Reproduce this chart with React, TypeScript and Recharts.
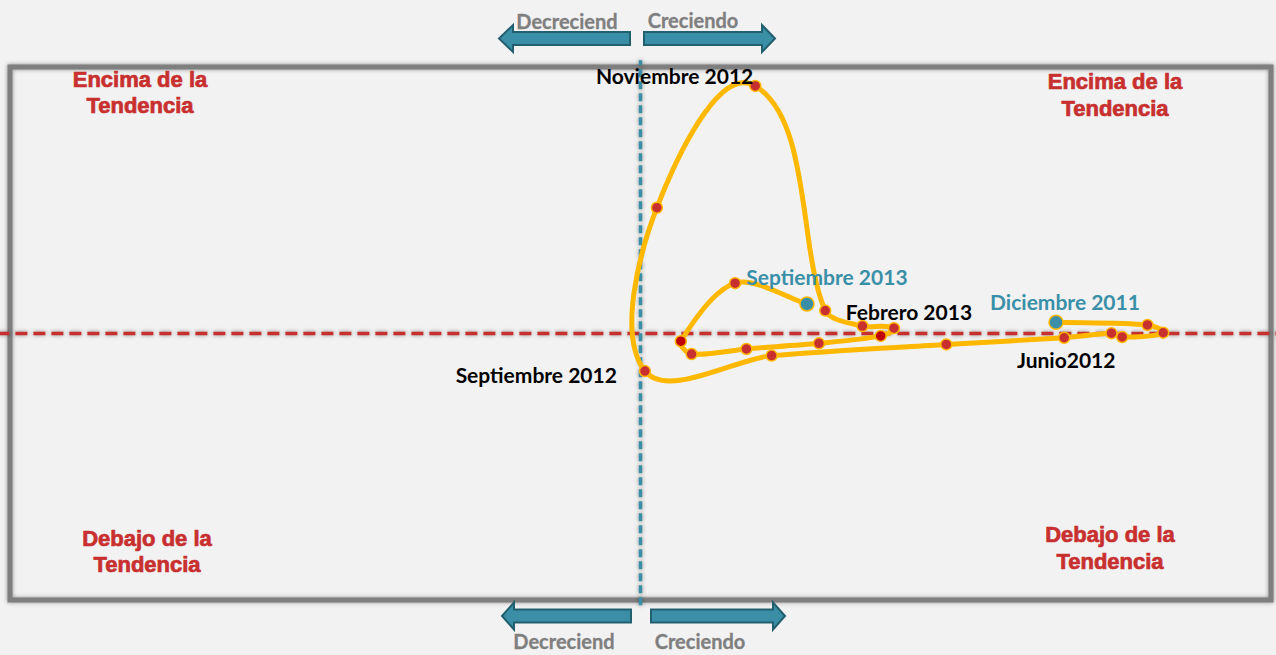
import React from 'react';
import { ScatterChart, Scatter, XAxis, YAxis, ReferenceLine, ReferenceArea } from 'recharts';

// months shown on the clock, Dec 2011 -> Sep 2013
const months = [
  'Dic 2011', 'Ene 2012', 'Feb 2012', 'Mar 2012', 'Abr 2012', 'Jun 2012', 'Jul 2012',
  'Ago 2012', 'Sep 2012', 'Oct 2012', 'Nov 2012', 'Dic 2012', 'Ene 2013', 'Feb 2013',
  'Mar 2013', 'Abr 2013', 'May 2013', 'Jun 2013', 'Jul 2013', 'Ago 2013', 'Sep 2013',
];
// growth (horizontal) and deviation from trend (vertical)
const growth = [
  6.59, 8.04, 8.29, 7.64, 7.47, 6.72, 4.85, 2.08, 0.07, 0.26, 1.82, 2.93, 3.52, 4.02,
  3.81, 2.83, 1.68, 0.81, 0.64, 1.5, 2.64,
];
const trend = [
  0.42, 0.32, 0.03, -0.13, 0.01, -0.16, -0.41, -0.83, -1.41, 4.72, 9.29, 0.86, 0.28, 0.2,
  -0.09, -0.37, -0.58, -0.77, -0.29, 1.89, 1.11,
];

const labelMonths = ['Dic 2011', 'Jun 2012', 'Sep 2012', 'Nov 2012', 'Feb 2013', 'Sep 2013'];
const labelTexts = ['Diciembre 2011', 'Junio2012', 'Septiembre 2012', 'Noviembre 2012', 'Febrero 2013', 'Septiembre 2013'];

const quadrantTexts = ['Encima de la', 'Tendencia', 'Debajo de la', 'Tendencia'];
const arrowTexts = ['Decreciend', 'Creciendo'];

const data = months.map((m, i) => ({ month: m, x: growth[i], y: trend[i] }));

const TEAL = '#3A8FA8';
const RED = '#C8302F';
const DARK_RED = '#C00000';
const YELLOW = '#FFB800';

// where each point label sits relative to its point
const labelStyle: Record<string, { dx: number; dy: number; anchor: string; color: string }> = {
  'Dic 2011': { dx: 9, dy: -12, anchor: 'middle', color: TEAL },
  'Jun 2012': { dx: 2, dy: 30, anchor: 'middle', color: '#000' },
  'Sep 2012': { dx: -28, dy: 12, anchor: 'end', color: '#000' },
  'Nov 2012': { dx: -2, dy: -2, anchor: 'end', color: '#000' },
  'Feb 2013': { dx: 15, dy: -8, anchor: 'middle', color: '#000' },
  'Sep 2013': { dx: 20, dy: -19, anchor: 'middle', color: TEAL },
};
const darkPoints = ['Mar 2013', 'Jul 2013'];

const unit = (x: number, y: number) => {
  const l = Math.hypot(x, y) || 1;
  return { x: x / l, y: y / l };
};

// smooth line through points, like the office "smoothed line"
const smoothPath = (pts: any[], t = 0.28) => {
  if (!pts || pts.length < 2) return '';
  let d = `M${pts[0].x},${pts[0].y}`;
  for (let i = 0; i < pts.length - 1; i++) {
    const p0 = pts[Math.max(i - 1, 0)];
    const p1 = pts[i];
    const p2 = pts[i + 1];
    const p3 = pts[Math.min(i + 2, pts.length - 1)];
    const len = Math.hypot(p2.x - p1.x, p2.y - p1.y) * t;
    const u1 = unit(p2.x - p0.x, p2.y - p0.y);
    const u2 = unit(p3.x - p1.x, p3.y - p1.y);
    d += ` C${p1.x + u1.x * len},${p1.y + u1.y * len} ${p2.x - u2.x * len},${p2.y - u2.y * len} ${p2.x},${p2.y}`;
  }
  return d;
};

const renderLine = (props: any) => (
  <path
    d={smoothPath(props.points)}
    fill="none"
    stroke={YELLOW}
    strokeWidth={5}
    strokeLinejoin="round"
    strokeLinecap="round"
  />
);

const renderPoint = (props: any) => {
  const { cx, cy, payload } = props;
  const m = payload.month;
  const isEnd = m === months[0] || m === months[months.length - 1];
  const fill = isEnd ? TEAL : darkPoints.includes(m) ? DARK_RED : RED;
  const li = labelMonths.indexOf(m);
  const ls = labelStyle[m];
  return (
    <g>
      <circle cx={cx} cy={cy} r={isEnd ? 7 : 5.5} fill={fill} stroke={YELLOW} strokeWidth={1.5} />
      {li >= 0 && (
        <text
          x={cx + ls.dx}
          y={cy + ls.dy}
          textAnchor={ls.anchor as any}
          fill={ls.color}
          fontFamily="Lato"
          fontWeight="bold"
          fontSize={21}
        >
          {labelTexts[li]}
        </text>
      )}
    </g>
  );
};

const arrow = (tip: number, base: number, end: number, cy: number) => {
  const s = 6.4;
  const h = 13.5;
  return `${tip},${cy} ${base},${cy - h} ${base},${cy - s} ${end},${cy - s} ${end},${cy + s} ${base},${cy + s} ${base},${cy + h}`;
};

const shadow = 'drop-shadow(0px 0px 2px rgba(0,0,0,0.4))';

const App = () => {
  const qText = (x: number, y1: number, y2: number, top: string) => (
    <g
      fill={RED}
      stroke={RED}
      strokeWidth={0.7}
      fontFamily="Liberation Sans"
      fontWeight="bold"
      fontSize={22}
      textAnchor="middle"
    >
      <text x={x} y={y1}>{top}</text>
      <text x={x} y={y2}>{quadrantTexts[1]}</text>
    </g>
  );
  return (
    <div style={{ position: 'absolute', left: 0, top: 0, width: 1276, height: 655, background: '#F2F2F2' }}>
      <ScatterChart width={1276} height={655} margin={{ top: 67, right: 5, bottom: 55, left: 10 }}>
        <XAxis dataKey="x" type="number" domain={[-10, 10]} hide />
        <YAxis dataKey="y" type="number" domain={[-10, 10]} hide />
        <ReferenceArea
          x1={-10}
          x2={10}
          y1={-10}
          y2={10}
          fill="none"
          fillOpacity={0}
          stroke="#7F7F7F"
          strokeWidth={5}
          style={{ filter: shadow }}
        />
        <ReferenceLine
          segment={[{ x: -10.2, y: 0 }, { x: 10.2, y: 0 }]}
          ifOverflow="visible"
          stroke={RED}
          strokeWidth={3.5}
          strokeDasharray="12 6"
          style={{ filter: shadow }}
        />
        <ReferenceLine
          segment={[{ x: 0, y: -10.2 }, { x: 0, y: 10.25 }]}
          ifOverflow="visible"
          stroke={TEAL}
          strokeWidth={3.5}
          strokeDasharray="8 4"
          style={{ filter: shadow }}
        />
        <Scatter
          data={data}
          dataKey="y"
          line={renderLine}
          lineType="joint"
          shape={renderPoint}
          isAnimationActive={false}
        />
      </ScatterChart>
      <svg width={1276} height={655} style={{ position: 'absolute', left: 0, top: 0, pointerEvents: 'none' }}>
        <g fill="#3A8FA6" stroke="#23606F" strokeWidth={2}>
          <polygon points={arrow(499, 513, 630, 38.5)} />
          <polygon points={arrow(775, 762, 644, 38.5)} />
          <polygon points={arrow(502, 514, 631, 616)} />
          <polygon points={arrow(785, 773, 651, 616)} />
        </g>
        <g fill="#7F7F7F" stroke="#7F7F7F" strokeWidth={0.3} fontFamily="Lato" fontWeight="bold" fontSize={20} textAnchor="middle">
          <text x={567} y={29}>{arrowTexts[0]}</text>
          <text x={693} y={28}>{arrowTexts[1]}</text>
          <text x={564} y={649}>{arrowTexts[0]}</text>
          <text x={700} y={649}>{arrowTexts[1]}</text>
        </g>
        {qText(140, 87, 113, quadrantTexts[0])}
        {qText(1115, 89, 116, quadrantTexts[0])}
        {qText(147, 546, 572, quadrantTexts[2])}
        {qText(1110, 542, 569, quadrantTexts[2])}
      </svg>
    </div>
  );
};

export default App;
